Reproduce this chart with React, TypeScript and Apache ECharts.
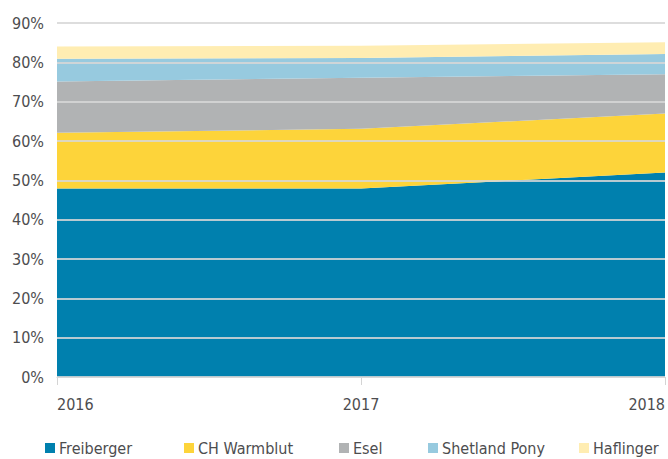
import React, { useEffect, useRef } from "react";
import * as echarts from "echarts";

const years = ["2016", "2017", "2018"];
const freiberger = [47.9, 47.9, 52];
const chWarmblut = [14.2, 15.2, 15];
const esel = [13, 13, 10];
const shetland = [5.8, 5, 5.1];
const haflinger = [3.1, 3.1, 3];
const yTicks = [0, 10, 20, 30, 40, 50, 60, 70, 80, 90];

const seriesDefs = [
  { name: "Freiberger", data: freiberger, color: "#0080ae", left: 45 },
  { name: "CH Warmblut", data: chWarmblut, color: "#fdd43a", left: 184 },
  { name: "Esel", data: esel, color: "#b1b3b4", left: 339 },
  { name: "Shetland Pony", data: shetland, color: "#97cadf", left: 428 },
  { name: "Haflinger", data: haflinger, color: "#ffedb2", left: 579 },
];

const FONT = "'DejaVu Sans Condensed', 'Liberation Sans Narrow', sans-serif";

export default function App() {
  const ref = useRef<HTMLDivElement>(null);
  useEffect(() => {
    if (!ref.current) return;
    const chart = echarts.init(ref.current, null, { renderer: "svg" });
    chart.setOption({
      animation: false,
      grid: { left: 57, right: 3, top: 23, bottom: 82, containLabel: false },
      legend: seriesDefs.map((s) => ({
        data: [s.name],
        left: s.left,
        top: 440,
        itemWidth: 10,
        itemHeight: 10,
        itemGap: 0,
        padding: 0,
        icon: "rect",
        textStyle: { fontFamily: FONT, fontSize: 16, color: "#4d4d4f", padding: [0, 0, 0, -1] },
      })),
      xAxis: {
        type: "category",
        data: years,
        boundaryGap: false,
        axisLine: { lineStyle: { color: "#d4d4d4", width: 1 } },
        axisTick: { show: true, length: 8, lineStyle: { color: "#d4d4d4" } },
        axisLabel: {
          fontFamily: FONT,
          fontSize: 16,
          color: "#4d4d4f",
          margin: 19,
          alignMinLabel: "left",
          alignMaxLabel: "right",
        },
      },
      yAxis: {
        type: "value",
        min: yTicks[0],
        max: yTicks[yTicks.length - 1],
        interval: 10,
        z: 10,
        axisLine: { show: false },
        axisTick: { show: false },
        axisLabel: {
          formatter: "{value}%",
          fontFamily: FONT,
          fontSize: 16,
          color: "#4d4d4f",
          margin: 13,
        },
        splitLine: { lineStyle: { color: "rgba(215,215,215,0.85)", width: 2 } },
      },
      series: seriesDefs.map((s) => ({
        name: s.name,
        type: "line",
        stack: "total",
        data: s.data,
        symbol: "none",
        lineStyle: { width: 0 },
        areaStyle: { color: s.color, opacity: 1 },
        itemStyle: { color: s.color },
        z: 2,
      })),
    });
    return () => chart.dispose();
  }, []);
  return <div ref={ref} style={{ width: 668, height: 459, position: "absolute", left: 0, top: 0, background: "#fff" }} />;
}
